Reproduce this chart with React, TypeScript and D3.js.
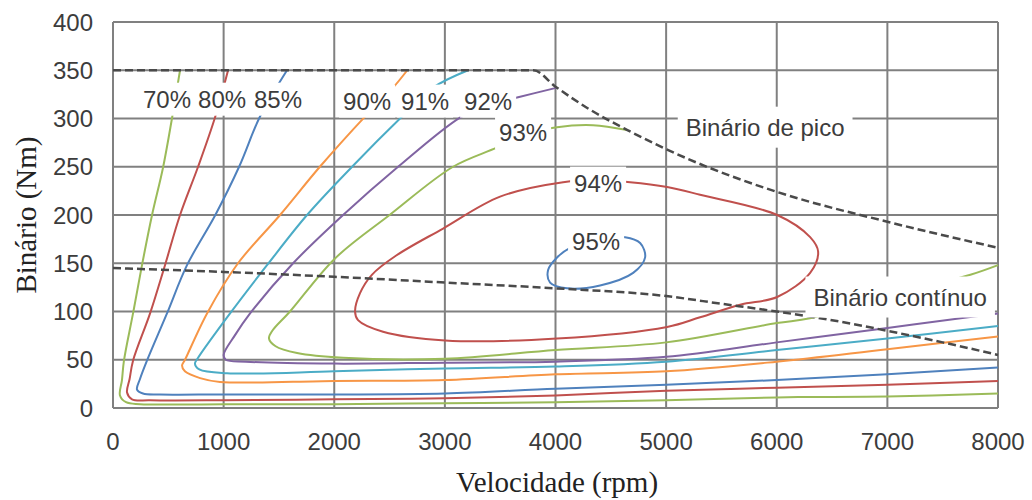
import React, { useRef, useEffect } from "react";
import { select, scaleLinear, line, curveCatmullRom, curveCatmullRomClosed, curveMonotoneX } from "d3";

const WIDTH = 1032;
const HEIGHT = 500;

const speedTicks = [0, 1000, 2000, 3000, 4000, 5000, 6000, 7000, 8000];
const torqueTicks = [0, 50, 100, 150, 200, 250, 300, 350, 400];

// efficiency contours, [rpm, Nm]
const eff70 = [[606, 350], [533, 300], [452, 249], [353, 200], [262, 148], [181, 98], [99, 49], [81, 29], [63, 13], [118, 6], [244, 4], [1000, 4], [2000, 4], [3000, 5], [4000, 6], [5000, 8], [6000, 11], [7000, 12], [8000, 15]];
const eff80 = [[1040, 350], [922, 301], [769, 250], [606, 200], [470, 148], [335, 98], [181, 49], [150, 30], [127, 16], [172, 9], [335, 8], [1000, 8], [2000, 9], [3000, 10], [4000, 13], [5000, 18], [6000, 21], [7000, 24], [8000, 28]];
const eff85 = [[1573, 350], [1329, 302], [1140, 250], [925, 200], [669, 148], [488, 98], [307, 49], [244, 30], [217, 19], [271, 15], [425, 14], [1000, 14], [2000, 14], [3000, 15], [4000, 20], [5000, 24], [6000, 29], [7000, 35], [8000, 42]];
const eff90 = [[2660, 350], [2532, 332], [2278, 302], [1870, 250], [1510, 200], [1130, 150], [850, 98], [651, 50], [624, 44], [650, 38], [787, 31], [967, 27], [2000, 28], [3000, 29], [4000, 35], [5000, 38], [6000, 48], [7000, 61], [8000, 74]];
const eff91 = [[3210, 350], [2893, 332], [2613, 302], [2161, 250], [1754, 200], [1392, 148], [1058, 98], [769, 52], [741, 46], [780, 40], [1031, 36], [2000, 38], [3000, 41], [4000, 43], [5000, 48], [6000, 60], [7000, 72], [8000, 85]];
const eff92 = [[4015, 332], [3662, 322], [3390, 314], [3137, 301], [2577, 250], [2080, 200], [1628, 150], [1239, 98], [1100, 75], [1000, 55], [1020, 50], [1200, 48], [2000, 46], [3000, 47], [4000, 48], [5000, 53], [6000, 68], [7000, 83], [7800, 95], [8000, 98]];
const eff93 = [[4647, 288], [4340, 293], [4014, 291], [3700, 283], [3472, 270], [3074, 250], [2500, 200], [2007, 155], [1600, 100], [1440, 80], [1410, 72], [1470, 64], [1664, 57], [2080, 52], [3000, 51], [4000, 60], [5000, 68], [6000, 88], [6300, 93], [7000, 115], [7750, 138], [8000, 148]];
const eff94 = [[4675, 234], [5009, 229], [5307, 221], [6004, 200], [6302, 177], [6374, 162], [6302, 140], [6004, 115], [5669, 107], [5307, 94], [5009, 84], [4014, 72], [3002, 70], [2441, 79], [2215, 91], [2188, 100], [2233, 119], [2340, 138], [2560, 158], [2984, 186], [3499, 219], [4069, 234], [4380, 236]];
const eff95 = [[4629, 177], [4765, 171], [4810, 156], [4702, 140], [4403, 127], [4105, 124], [3951, 130], [3933, 143], [4014, 156], [4132, 166], [4380, 175]];

const peakTorque = [[0, 350], [3800, 350], [4000, 333], [4300, 310], [4650, 288], [5200, 258], [6000, 224], [7000, 193], [8000, 166]];
const contTorque = [[0, 145], [1000, 141], [2000, 136], [3000, 130], [4000, 124], [5000, 116], [5500, 108], [6000, 100], [6500, 91], [7000, 80], [7500, 68], [8000, 55]];

const contourNames = ["70%", "80%", "85%", "90%", "91%", "92%", "93%", "94%", "95%"];
const contourColors = ["#9bbb59", "#c0504d", "#4f81bd", "#f79646", "#4bacc6", "#8064a2", "#9bbb59", "#c0504d", "#4f81bd"];
const labelSpots = [[488, 320], [986, 320], [1492, 320], [2297, 318], [2821, 318], [3391, 318], [3707, 285], [4385, 233], [4367, 173]];

const limitNames = ["Binário de pico", "Binário contínuo"];
const limitSpots = [[5895, 291], [7116, 115]];

function App() {
  const svgRef = useRef(null);

  useEffect(() => {
    const svg = select(svgRef.current);
    svg.selectAll("*").remove();

    const x = scaleLinear().domain([0, 8000]).range([113, 998]);
    const y = scaleLinear().domain([0, 400]).range([408, 22]);

    const grid = svg.append("g");
    grid.selectAll(".vl").data(speedTicks).join("line").attr("class", "vl")
      .attr("x1", d => x(d)).attr("x2", d => x(d))
      .attr("y1", y(0)).attr("y2", y(400))
      .attr("stroke", "#808080").attr("stroke-width", 2);
    grid.selectAll(".hl").data(torqueTicks).join("line").attr("class", "hl")
      .attr("y1", d => y(d)).attr("y2", d => y(d))
      .attr("x1", x(0)).attr("x2", x(8000))
      .attr("stroke", "#808080").attr("stroke-width", 2);

    const contours = [eff70, eff80, eff85, eff90, eff91, eff92, eff93, eff94, eff95];
    const open = line().x(d => x(d[0])).y(d => y(d[1])).curve(curveCatmullRom.alpha(0.5));
    const closed = line().x(d => x(d[0])).y(d => y(d[1])).curve(curveCatmullRomClosed.alpha(0.5));

    svg.append("g").selectAll("path").data(contours).join("path")
      .attr("d", (d, i) => (i >= 7 ? closed(d) : open(d)))
      .attr("fill", "none")
      .attr("stroke", (d, i) => contourColors[i])
      .attr("stroke-width", 2);

    // torque limits, dashed
    const limit = line().x(d => x(d[0])).y(d => y(d[1])).curve(curveMonotoneX);
    svg.append("g").selectAll("path").data([peakTorque, contTorque]).join("path")
      .attr("d", limit)
      .attr("fill", "none")
      .attr("stroke", "#4a4a4a")
      .attr("stroke-width", 2.5)
      .attr("stroke-dasharray", "8,4");

    // labels sit on white boxes that hide the lines under them
    const addLabel = (txt, spot, padX, padY) => {
      const g = svg.append("g");
      const rect = g.append("rect").attr("fill", "white");
      const t = g.append("text")
        .attr("x", x(spot[0])).attr("y", y(spot[1]))
        .attr("text-anchor", "middle").attr("dominant-baseline", "central")
        .attr("font-family", "Arial, 'Liberation Sans', sans-serif")
        .attr("font-size", 24).attr("fill", "#3c3c3c")
        .text(txt);
      const bb = t.node().getBBox();
      rect.attr("x", bb.x - padX).attr("y", bb.y - padY)
        .attr("width", bb.width + 2 * padX).attr("height", bb.height + 2 * padY);
    };
    contourNames.forEach((n, i) => addLabel(n, labelSpots[i], 4, 3));
    limitNames.forEach((n, i) => addLabel(n, limitSpots[i], 8, 7));

    svg.append("g").selectAll("text").data(torqueTicks).join("text")
      .attr("x", 93).attr("y", d => y(d))
      .attr("text-anchor", "end").attr("dominant-baseline", "central")
      .attr("font-family", "Arial, 'Liberation Sans', sans-serif")
      .attr("font-size", 24).attr("fill", "#3c3c3c")
      .text(d => d);

    svg.append("g").selectAll("text").data(speedTicks).join("text")
      .attr("x", d => x(d)).attr("y", 450)
      .attr("text-anchor", "middle")
      .attr("font-family", "Arial, 'Liberation Sans', sans-serif")
      .attr("font-size", 24).attr("fill", "#3c3c3c")
      .text(d => d);

    svg.append("text")
      .attr("x", 557).attr("y", 492)
      .attr("text-anchor", "middle")
      .attr("font-family", "'Times New Roman', 'Liberation Serif', serif")
      .attr("font-size", 29).attr("fill", "#222")
      .text("Velocidade (rpm)");

    svg.append("text")
      .attr("transform", "translate(36,215) rotate(-90)")
      .attr("text-anchor", "middle")
      .attr("font-family", "'Times New Roman', 'Liberation Serif', serif")
      .attr("font-size", 29).attr("fill", "#222")
      .text("Binário (Nm)");
  }, []);

  return (
    <svg ref={svgRef} width={WIDTH} height={HEIGHT} style={{ position: "absolute", left: 0, top: 0, background: "white" }}></svg>
  );
}

export default App;
